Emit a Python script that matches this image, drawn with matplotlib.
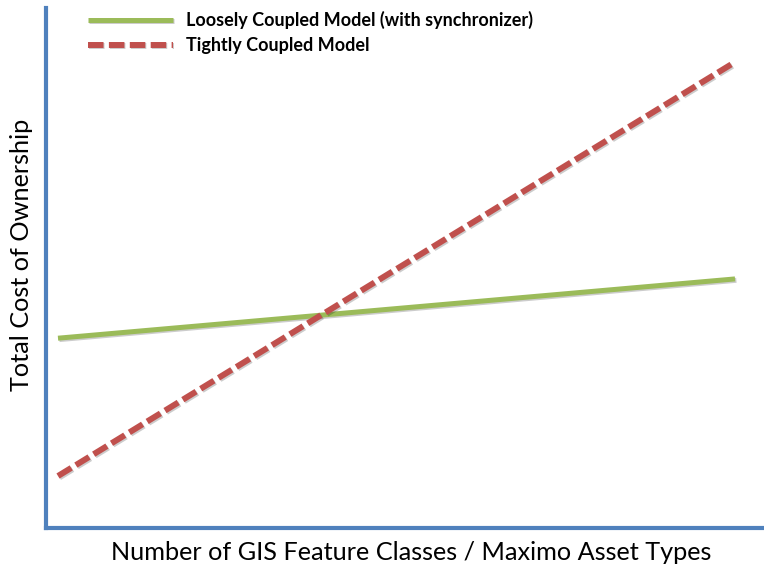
import matplotlib
matplotlib.use("Agg")
import matplotlib.pyplot as plt
import matplotlib.patheffects as pe

plt.rcParams["font.family"] = ["Lato", "DejaVu Sans"]

# data (arbitrary units)
x_pts = [0, 10]
loose = [36.5, 47.9]
tight = [10.0, 89.6]

labels = ["Loosely Coupled Model (with synchronizer)", "Tightly Coupled Model"]

GREEN = "#9BBB59"
RED = "#C0504D"
BLUE = "#4F81BD"

fig = plt.figure(figsize=(7.64, 5.67), dpi=100)
ax = fig.add_axes([46 / 764, 39 / 567, 718 / 764, 520 / 567])

shadow = [pe.SimpleLineShadow(offset=(1, -1), alpha=0.2), pe.Normal()]

ax.plot(x_pts, loose, color=GREEN, lw=3.6, solid_capstyle="butt",
        label=labels[0], path_effects=shadow)
ax.plot(x_pts, tight, color=RED, lw=4.3, dashes=(2.6, 0.9),
        dash_capstyle="butt", label=labels[1], path_effects=shadow)

ax.set_xlim(-12 / 67.7, 706 / 67.7)
ax.set_ylim(0, 100)

for side in ["top", "right"]:
    ax.spines[side].set_visible(False)
for side in ["left", "bottom"]:
    ax.spines[side].set_color(BLUE)
    ax.spines[side].set_linewidth(3)
ax.set_xticks([])
ax.set_yticks([])

fig.text(411 / 764, 1 - 553 / 567, "Number of GIS Feature Classes / Maximo Asset Types",
         ha="center", va="center", fontsize=18.2)
fig.text(22 / 764, 1 - 255 / 567, "Total Cost of Ownership",
         ha="center", va="center", fontsize=18.2, rotation=90)

leg = fig.legend(loc="upper left", bbox_to_anchor=(88 / 764, 1 - 11 / 567),
                 frameon=False, borderpad=0, borderaxespad=0,
                 handlelength=4.7, handletextpad=0.75,
                 labelspacing=0.45, prop={"size": 13, "weight": "bold"})

fig.savefig("out.png", dpi=100)
